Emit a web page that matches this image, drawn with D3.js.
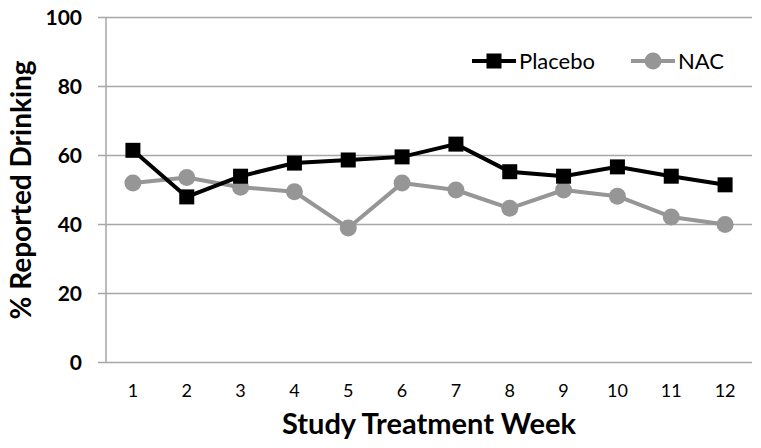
<!DOCTYPE html>
<html><head><meta charset="utf-8">
<script src="https://cdn.jsdelivr.net/npm/d3@7"></script>
<style>body{margin:0;background:#fff}svg{display:block;font-family:Lato,"Open Sans",sans-serif}</style>
</head><body><svg id="c" width="761" height="448"></svg>
<script>
const weeks = ["1","2","3","4","5","6","7","8","9","10","11","12"];
const placebo = [61.5, 48, 54, 57.8, 58.7, 59.6, 63.3, 55.3, 54, 56.7, 54, 51.5];
const nac = [52, 53.6, 50.8, 49.5, 39, 52, 50, 44.7, 50, 48.2, 42.2, 40];
const yTicks = [0, 20, 40, 60, 80, 100];
const seriesNames = ["Placebo", "NAC"];

const svg = d3.select("#c");
const L = 106, R = 752, T = 17.5, B = 362.5;
const x = d3.scaleBand().domain(weeks).range([L, R]);
const y = d3.scaleLinear().domain([0, 100]).range([B, T]);

// gridlines
svg.append("g").selectAll("line").data(yTicks).join("line")
  .attr("x1", L - 8).attr("x2", R).attr("y1", d => y(d)).attr("y2", d => y(d))
  .attr("stroke", "#a6a6a6").attr("stroke-width", 1.5);
// y axis line
svg.append("line").attr("x1", L).attr("x2", L).attr("y1", T).attr("y2", B)
  .attr("stroke", "#a6a6a6").attr("stroke-width", 1.5);

// y tick labels
svg.append("g").selectAll("text").data(yTicks).join("text")
  .attr("x", 82).attr("y", d => y(d)).attr("dy", "0.36em")
  .attr("text-anchor", "end").attr("font-weight", "bold").attr("font-size", 21)
  .attr("fill", "#000").text(d => d);

// x tick labels
svg.append("g").selectAll("text").data(weeks).join("text")
  .attr("x", d => x(d) + x.bandwidth() / 2).attr("y", 397)
  .attr("text-anchor", "middle").attr("font-size", 18).attr("fill", "#000").text(d => d);

// titles
svg.append("text").attr("x", 429).attr("y", 434).attr("text-anchor", "middle")
  .attr("font-weight", "bold").attr("font-size", 29).text("Study Treatment Week");
svg.append("text").attr("transform", "translate(31,190) rotate(-90)").attr("text-anchor", "middle")
  .attr("font-weight", "bold").attr("font-size", 28).text("% Reported Drinking");

const cx = d => x(d) + x.bandwidth() / 2;
const line = d3.line().x((d, i) => cx(weeks[i])).y(d => y(d));

// NAC
svg.append("path").datum(nac).attr("d", line).attr("fill", "none")
  .attr("stroke", "#969696").attr("stroke-width", 4).attr("stroke-linejoin", "round");
svg.append("g").selectAll("circle").data(nac).join("circle")
  .attr("cx", (d, i) => cx(weeks[i])).attr("cy", d => y(d)).attr("r", 8.5).attr("fill", "#969696");

// Placebo
svg.append("path").datum(placebo).attr("d", line).attr("fill", "none")
  .attr("stroke", "#000").attr("stroke-width", 4).attr("stroke-linejoin", "miter");
svg.append("g").selectAll("rect").data(placebo).join("rect")
  .attr("x", (d, i) => cx(weeks[i]) - 7.5).attr("y", d => y(d) - 7.5)
  .attr("width", 15).attr("height", 15).attr("fill", "#000");

// legend
const lg = svg.append("g");
const legendItems = [
  {name: seriesNames[0], x0: 472, color: "#000", shape: "square"},
  {name: seriesNames[1], x0: 631, color: "#969696", shape: "circle"}
];
const ly = 61;
legendItems.forEach(it => {
  lg.append("line").attr("x1", it.x0).attr("x2", it.x0 + 44).attr("y1", ly).attr("y2", ly)
    .attr("stroke", it.color).attr("stroke-width", 4);
  if (it.shape === "square") {
    lg.append("rect").attr("x", it.x0 + 22 - 7.5).attr("y", ly - 7.5).attr("width", 15).attr("height", 15).attr("fill", it.color);
  } else {
    lg.append("circle").attr("cx", it.x0 + 22).attr("cy", ly).attr("r", 8.5).attr("fill", it.color);
  }
  lg.append("text").attr("x", it.x0 + 47).attr("y", ly).attr("dy", "0.36em")
    .attr("font-size", 22).attr("fill", "#000").text(it.name);
});
</script></body></html>
